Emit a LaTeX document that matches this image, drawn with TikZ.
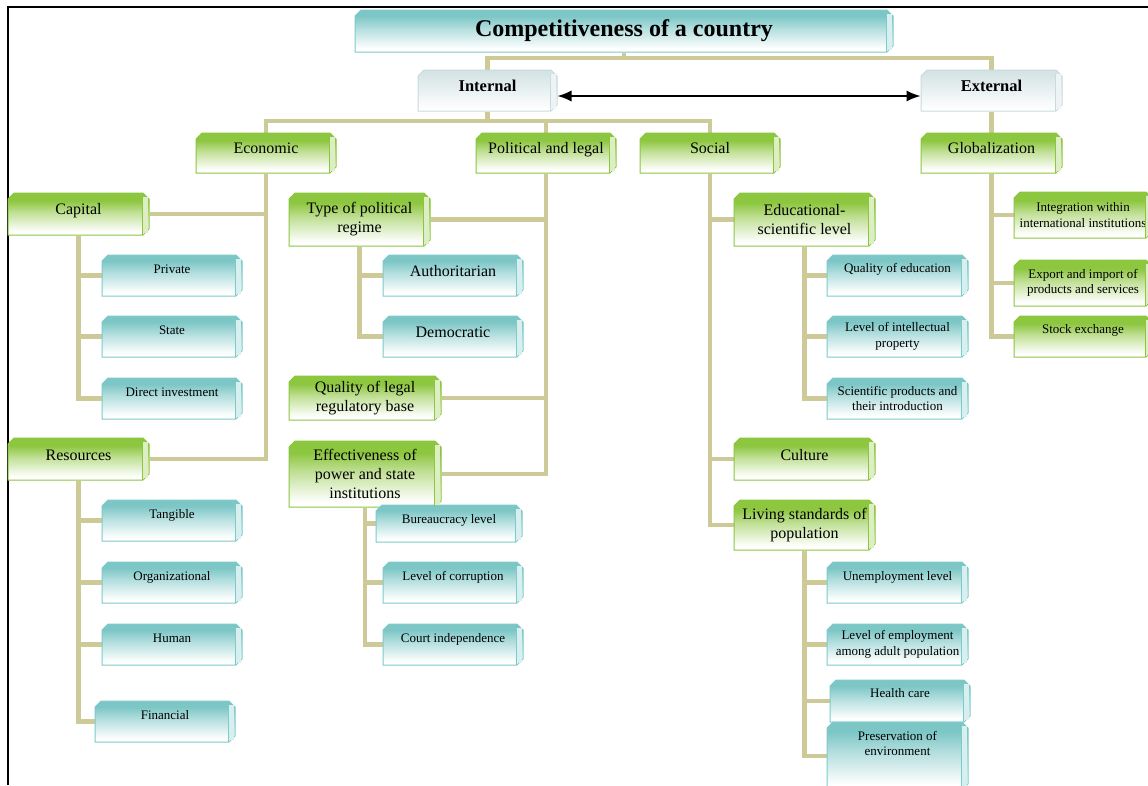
\documentclass[tikz,border=0pt]{standalone}
\usepackage{fontspec}
\setmainfont{Liberation Serif}
\usepackage{xcolor}
\usetikzlibrary{shapes.misc,positioning,calc,arrows.meta,backgrounds}

\definecolor{gtop}{HTML}{8DC63F}
\definecolor{gedge}{HTML}{8CC63F}
\definecolor{ttop}{HTML}{7CC6C6}
\definecolor{tedge}{HTML}{7ECACA}
\definecolor{itop}{HTML}{D2E1E3}
\definecolor{iedge}{HTML}{C8DADC}
\definecolor{khaki}{HTML}{CDCA97}

\pgfdeclareverticalshading{greenfade}{100bp}{color(0bp)=(white); color(29bp)=(white); color(52bp)=(gtop!55!white); color(66bp)=(gtop); color(100bp)=(gtop)}
\pgfdeclareverticalshading{tealfade}{100bp}{color(0bp)=(white); color(29bp)=(white); color(52bp)=(ttop!55!white); color(68bp)=(ttop); color(100bp)=(ttop)}
\pgfdeclareverticalshading{grayfade}{100bp}{color(0bp)=(white); color(27bp)=(white); color(75bp)=(itop); color(100bp)=(itop)}

\begin{document}
\begin{tikzpicture}[x=1pt,y=-1pt,
  box/.style={chamfered rectangle, chamfered rectangle xsep=3pt, chamfered rectangle ysep=3pt,
    chamfered rectangle corners={north west,north east,south east}, line width=1pt,
    inner sep=1pt, align=center, shade},
  wh/.style 2 args={minimum width=#1pt, minimum height=#2pt},
  lift/.style={text height=10pt, text depth=#1},
  green box/.style={box, shading=greenfade, draw=gedge, font=\fontsize{16}{19}\selectfont},
  small green/.style={box, shading=greenfade, draw=gedge, font=\fontsize{13}{15.5}\selectfont},
  teal box/.style={box, shading=tealfade, draw=tedge, font=\fontsize{13}{15.5}\selectfont},
  big teal/.style={teal box, font=\fontsize{16}{19}\selectfont},
  side box/.style={box, shading=grayfade, draw=iedge, font=\fontsize{16.5}{19}\selectfont\bfseries},
  link/.style={draw=khaki, line width=4.5pt}]
\useasboundingbox (0,0) rectangle (1148,785);
\clip (0,0) rectangle (1148,785);

% frame
\draw[line width=1.5pt] (8,785) -- (8,7) -- (1148,7);

% top levels
\node[box, shading=tealfade, draw=tedge, wh={538}{42}, font=\fontsize{24}{28}\selectfont\bfseries] (title) at (624,31) {Competitiveness of a country};
\node[side box, wh={139}{41}, lift=8pt] (int) at (487.5,90.5) {Internal};
\node[side box, wh={141}{41}, lift=8pt] (ext) at (991.5,90.5) {External};

\node[green box, wh={140}{40}, lift=10pt] (econ) at (266,153) {Economic};
\node[green box, wh={140}{40}, lift=10pt] (pol) at (546,153) {Political and legal};
\node[green box, wh={140}{40}, lift=10pt] (soc) at (710,153) {Social};
\node[green box, wh={141}{40}, lift=10pt] (glob) at (991.5,153) {Globalization};

% economic
\node[green box, wh={141}{42}, lift=9pt] (cap) at (78.5,214) {Capital};
\node[teal box, wh={140}{41}, lift=15pt] (priv) at (172,275.5) {Private};
\node[teal box, wh={140}{41}, lift=15pt] (state) at (172,336.5) {State};
\node[teal box, wh={140}{41}, lift=15pt] (dinv) at (172,398.5) {Direct investment};
\node[green box, wh={141}{42}, lift=8pt] (res) at (78.5,459) {Resources};
\node[teal box, wh={140}{41}, lift=15pt] (tang) at (172,520.5) {Tangible};
\node[teal box, wh={140}{41}, lift=15pt] (org) at (172,582.5) {Organizational};
\node[teal box, wh={140}{41}, lift=15pt] (hum) at (172,644.5) {Human};
\node[teal box, wh={140}{41}, lift=15pt] (fin) at (165,721.5) {Financial};

% political and legal
\node[green box, wh={141}{53}] (type) at (359.5,219.5) {Type of political\\regime};
\node[big teal, wh={140}{41}, lift=9pt] (auth) at (453,275.5) {Authoritarian};
\node[big teal, wh={140}{41}, lift=9pt] (demo) at (453,336.5) {Democratic};
\node[green box, wh={152}{44}] (qual) at (365,398) {Quality of legal\\regulatory base};
\node[green box, wh={152}{66}] (eff) at (365,474) {Effectiveness of\\power and state\\institutions};
\node[teal box, wh={146}{37}, lift=11pt] (bur) at (449,523.5) {Bureaucracy level};
\node[teal box, wh={140}{41}, lift=15pt] (corr) at (453,582.5) {Level of corruption};
\node[teal box, wh={140}{41}, lift=15pt] (court) at (453,644.5) {Court independence};

% social
\node[green box, wh={141}{53}] (edu) at (804.5,219.5) {Educational-\\scientific level};
\node[teal box, wh={141}{41}, lift=16pt] (qedu) at (897.5,275.5) {Quality of education};
\node[teal box, wh={141}{41}] (intel) at (897.5,336.5) {Level of intellectual\\property};
\node[teal box, wh={141}{41}] (sci) at (897.5,398.5) {Scientific products and\\their introduction};
\node[green box, wh={141}{42}, lift=7pt] (cult) at (804.5,459) {Culture};
\node[green box, wh={141}{50}] (liv) at (804.5,525) {Living standards of\\population};
\node[teal box, wh={141}{41}, lift=14pt] (unemp) at (897.5,582.5) {Unemployment level};
\node[teal box, wh={141}{41}] (empl) at (897.5,644.5) {Level of employment\\among adult population};
\node[teal box, wh={140}{42}, lift=17pt] (health) at (900,701) {Health care};
\node[teal box, wh={141}{68}] (env) at (897.5,756) {\parbox[c][50pt][t]{130pt}{\centering Preservation of\\environment}};

% globalization
\node[small green, wh={138}{46}] (integ) at (1083,215) {Integration within\\international institutions};
\node[small green, wh={138}{46}] (expo) at (1083,283) {Export and import of\\products and services};
\node[small green, wh={138}{41}, lift=16pt] (stock) at (1083,336.5) {Stock exchange};

% side strips
\foreach \n/\c in {title/tedge,int/iedge,ext/iedge,econ/gedge,pol/gedge,soc/gedge,glob/gedge,
    cap/gedge,priv/tedge,state/tedge,dinv/tedge,res/gedge,tang/tedge,org/tedge,hum/tedge,fin/tedge,
    type/gedge,auth/tedge,demo/tedge,qual/gedge,eff/gedge,bur/tedge,corr/tedge,court/tedge,
    edu/gedge,qedu/tedge,intel/tedge,sci/tedge,cult/gedge,liv/gedge,unemp/tedge,empl/tedge,
    health/tedge,env/tedge,integ/gedge,expo/gedge,stock/gedge}{
  \fill[\c!30!white] ($(\n.north -| \n.east)+(-7,4)$) rectangle ($(\n.south -| \n.east)+(-1.5,-3)$);
  \draw[\c, line width=0.6pt] ($(\n.north -| \n.east)+(-7,4)$) -- ($(\n.south -| \n.east)+(-7,-1)$);
}

% connectors
\begin{scope}[on background layer]
\coordinate (hub0) at (624,58);
\coordinate (hub1) at (487.5,121);
\draw[link] (title.south) -- (hub0);
\draw[link] (int.north) |- (hub0) -| (ext.north);
\draw[link] (int.south) -- (hub1);
\draw[link] (econ.north) |- (hub1) -| (soc.north);
\draw[link] (pol.north) -- (pol.north |- hub1);
\draw[link] (ext.south) -- (glob.north);

\draw[link] (econ.south) |- (res.east);
\draw[link] (econ.south |- cap.east) -- (cap.east);
\draw[link] (cap.south) |- (dinv.west);
\foreach \k in {priv,state} \draw[link] (cap.south |- \k.west) -- (\k.west);
\draw[link] (res.south) |- (fin.west);
\foreach \k in {tang,org,hum} \draw[link] (res.south |- \k.west) -- (\k.west);

\draw[link] (pol.south) |- (eff.east);
\foreach \k in {type,qual} \draw[link] (pol.south |- \k.east) -- (\k.east);
\draw[link] (type.south) |- (demo.west);
\draw[link] (type.south |- auth.west) -- (auth.west);
\draw[link] (eff.south) |- (court.west);
\foreach \k in {bur,corr} \draw[link] (eff.south |- \k.west) -- (\k.west);

\draw[link] (soc.south) |- (liv.west);
\foreach \k in {edu,cult} \draw[link] (soc.south |- \k.west) -- (\k.west);
\draw[link] (edu.south) |- (sci.west);
\foreach \k in {qedu,intel} \draw[link] (edu.south |- \k.west) -- (\k.west);
\draw[link] (liv.south) |- (env.west);
\foreach \k in {unemp,empl,health} \draw[link] (liv.south |- \k.west) -- (\k.west);

\draw[link] (glob.south) |- (stock.west);
\foreach \k in {integ,expo} \draw[link] (glob.south |- \k.west) -- (\k.west);
\end{scope}

\draw[{Latex[length=14pt,width=11pt]}-{Latex[length=14pt,width=11pt]}, line width=1.4pt]
  ([yshift=-5.5pt]int.east) -- ([yshift=-5.5pt]ext.west);
\end{tikzpicture}
\end{document}
